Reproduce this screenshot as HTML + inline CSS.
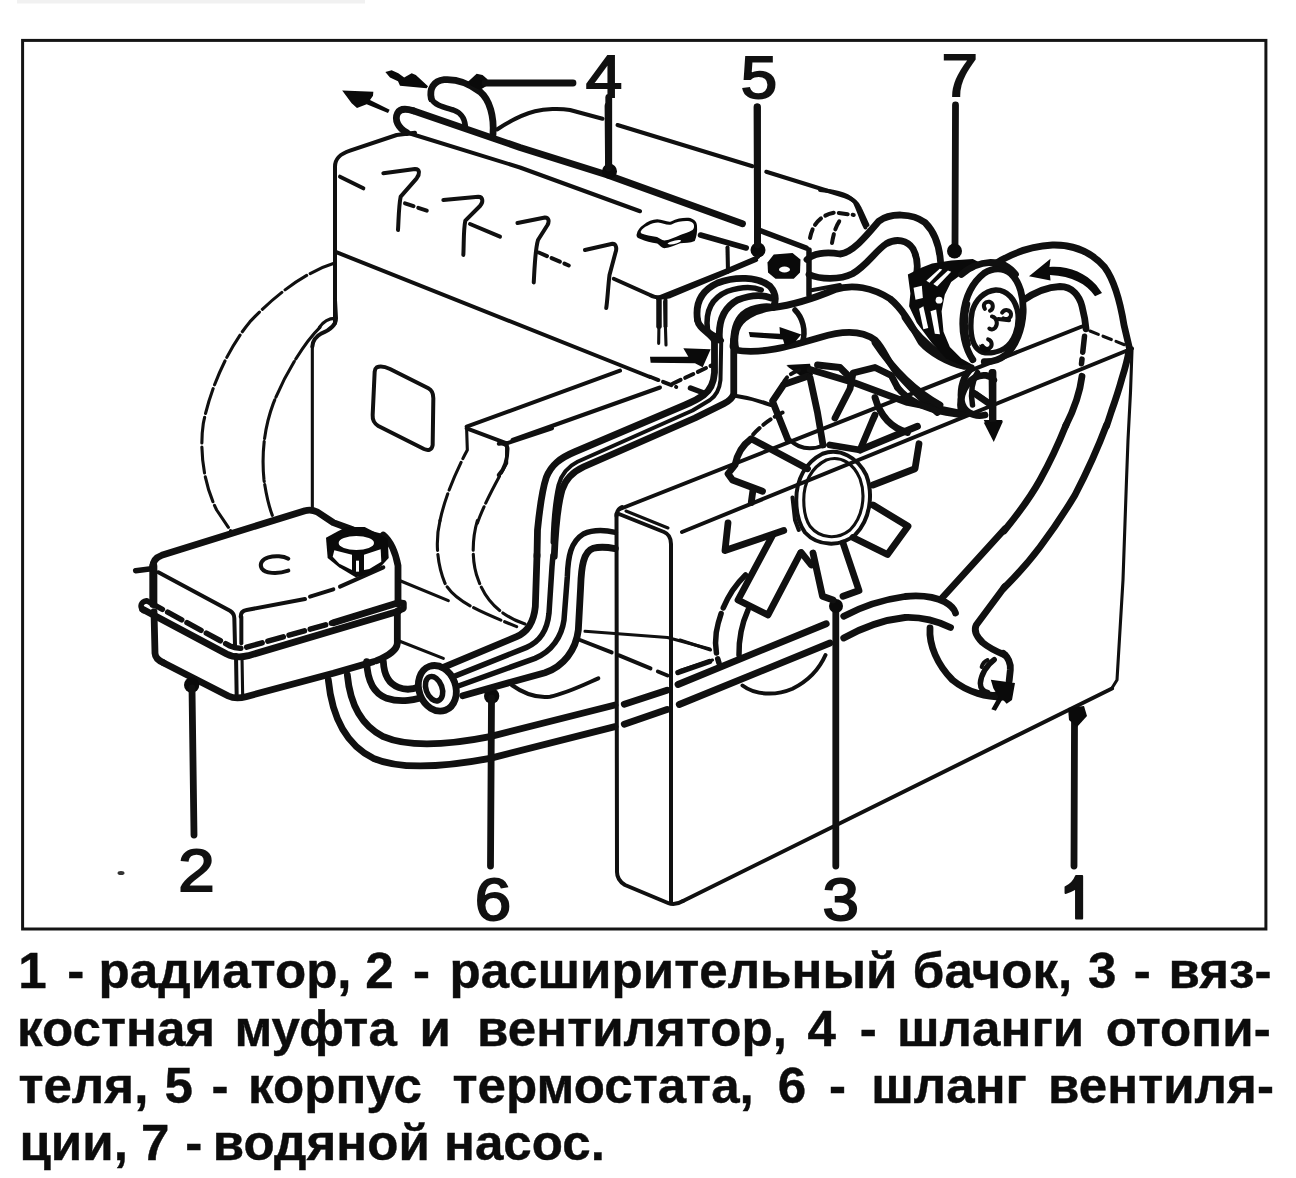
<!DOCTYPE html>
<html lang="ru">
<head>
<meta charset="utf-8">
<title>Система охлаждения</title>
<style>
html,body{margin:0;padding:0;background:#fff;}
body{width:1296px;height:1178px;overflow:hidden;position:relative;font-family:"Liberation Sans",sans-serif;}
svg{position:absolute;left:0;top:0;filter:blur(0.45px);}
.t,.m,.k,.h{fill:none;stroke:#101010;stroke-linecap:round;stroke-linejoin:round;vector-effect:non-scaling-stroke;}
.t{stroke-width:3.1;}
.m{stroke-width:4.0;}
.k{stroke-width:5.5;}
.h{stroke-width:6.8;}
.d{stroke-dasharray:9 5;}
.f{fill:#0a0a0a;stroke:none;}
.w{fill:#fff;}
.num{font-family:"Liberation Sans",sans-serif;font-size:58px;fill:#111;}
</style>
</head>
<body>
<svg width="1296" height="1178" viewBox="0 0 1296 1178">
<!-- 00_frame.svg -->
<g id="frame">
<rect x="22.6" y="40.4" width="1243.3" height="888.6" fill="none" stroke="#141414" stroke-width="3"/>
<rect x="17" y="0" width="348" height="3.5" fill="#f1f1f1"/>
</g>

<!-- 10_hose4.svg -->
<g id="r1" transform="translate(320,50) scale(0.166667)">
<!-- flow arrows -->
<path class="f" d="M392,132 L430,122 L470,140 L505,165 L550,140 L575,150 L648,218 L640,230 L480,215 L468,188 L420,165 Z"/>
<path class="f" d="M133,243 L320,250 L318,275 L300,300 L418,358 L408,378 L280,325 L222,348 L190,320 Z"/>
<!-- upper short hose -->
<path class="h" d="M668,292 C655,235 680,185 745,178 C830,172 900,205 960,250 C1020,300 1045,400 1038,505"/>
<path class="k" d="M668,292 C690,335 750,345 800,360 C850,378 868,410 872,455"/>
<!-- leader arrowhead for 4 -->
<path class="f" d="M878,200 L940,142 L975,150 L1005,175 L1005,212 L960,240 Z"/>
<!-- long pipe rounded end -->
<path class="h" d="M520,495 C470,470 445,420 465,380 C480,350 520,352 560,365"/>
</g>

<!-- 11_pipe.svg -->
<g id="r2" transform="translate(520,100) scale(0.25)">
<!-- long pipe: upper thick line from rounded end (source ~ (413,110)) to (744,224) -->
<path class="h" d="M-427,43 L0,190 L350,300 L890,495"/>
<!-- lower line of pipe -->
<path class="m" d="M-453,130 L0,270 L480,445"/>
<path class="k" d="M722,540 L905,592"/>
<!-- leader 4 vertical + dot -->
<path class="h" d="M355,-10 L355,280"/>
<circle class="f" cx="358" cy="285" r="30"/>
<!-- leader 5 vertical + dot -->
<path class="h" d="M950,28 L950,590"/>
<circle class="f" cx="952" cy="600" r="30"/>
<!-- oil filler cap -->
<path class="f" d="M466,540 C470,520 480,508 493,500 C510,485 530,478 549,477 C570,478 590,490 604,486 C630,472 660,470 681,472 C700,478 708,490 708,504 C710,525 706,548 699,564 C680,572 660,572 641,573 C620,580 600,592 577,593 C565,590 558,580 549,574 C525,570 500,565 482,556 C470,552 466,548 466,540 Z"/>
<path class="w" d="M482,528 C488,515 498,508 510,503 C525,494 540,490 552,490 C570,492 588,502 606,498 C630,486 655,483 678,485 C690,488 696,494 696,503 C697,510 694,516 690,520 C672,530 655,535 641,540 C620,548 600,560 578,562 C566,560 558,552 548,548 C525,545 500,540 486,534 Z"/>
<path class="w" d="M590,574 C600,566 625,560 640,560 C650,562 640,570 625,574 C610,578 596,580 590,574 Z"/>
<!-- intake manifold top -->
<path class="m" d="M-92,118 C-50,90 0,60 60,45 C100,35 160,33 200,40 L330,75"/>
<path class="m" d="M390,100 L930,265"/>
<path class="m" d="M985,287 L1300,385 C1330,395 1350,410 1360,435 L1390,500"/>
<!-- valve cover back corner -->
<path class="m" d="M375,715 L520,780 C540,792 570,792 600,785 L945,640"/>
<path class="k" d="M556,800 L556,905"/>
<path class="m" d="M582,800 L582,905"/>
<path class="t" d="M830,590 L830,690"/>
<!-- spark marks 3,4 -->
<path class="m" d="M-10,492 L100,470 C115,470 118,485 110,500 L72,560 C60,600 58,680 55,730"/>
<path class="m d" d="M75,610 L195,662"/>
<path class="m" d="M260,600 L370,575 C385,575 388,595 382,610 L358,700 C352,750 350,800 345,832"/>
</g>

<!-- 12_valvecover.svg -->
<g id="r3" transform="translate(300,130) scale(0.333333)">
<!-- valve cover outline: left edge + top-left corner -->
<path class="m" d="M105,580 L105,110 C105,85 120,72 150,62 L290,15 L345,8"/>
<!-- front face bottom edge -->
<path class="m" d="M105,365 L1050,741"/>
<path class="m" d="M120,140 L190,175"/>
<!-- spark marks 1,2 -->
<path class="m" d="M250,130 L345,117 C360,117 360,132 350,145 L302,200 C296,230 296,270 294,300"/>
<path class="m d" d="M315,220 L392,246"/>
<path class="m" d="M430,210 L535,200 C550,200 550,218 540,228 L496,272 C490,300 492,340 490,375"/>
<path class="m" d="M510,282 L600,320"/>
<!-- line to right: top of lower block -->
<path class="m" d="M500,890 L960,722"/>
<!-- vertical double line under cover corner -->
<path class="t" d="M1078,515 L1076,640"/>
<path class="t" d="M1094,515 L1098,645"/>
<!-- flow arrow right -->
<path class="f" d="M1050,680 L1165,680 L1150,655 L1232,658 L1208,712 L1185,700 L1052,698 Z"/>
</g>

<!-- 13_bell.svg -->
<g id="r4" transform="translate(120,250) scale(0.333333)">
<!-- outer dashed arc of bell housing -->
<path class="t" style="stroke-dasharray:26 4" d="M642,40 C560,65 470,130 390,215 C320,300 270,420 250,520 C238,600 250,700 290,780 L332,842"/>
<!-- inner arc -->
<path class="t" style="stroke-dasharray:40 3" d="M600,232 C560,270 500,360 460,460 C430,540 425,620 432,690 C438,730 445,765 457,796"/>
<!-- hook -->
<path class="m" d="M645,150 L648,205 C648,225 630,240 605,250 C590,258 578,270 577,290"/>
<path class="t" d="M645,205 C625,205 610,215 598,232"/>
<!-- vertical thin line -->
<path class="t" d="M577,290 L577,772"/>
<!-- plate on block side -->
<path class="m" d="M770,352 C780,348 795,350 810,357 L925,415 C938,422 940,432 940,445 L938,585 C936,600 925,603 912,597 L775,528 C762,520 757,510 758,495 L764,365 C765,357 767,354 770,352 Z"/>
<!-- exhaust manifold / shield box -->
<path class="m" d="M1040,535 L1160,580 L1296,535"/>
<path class="t" style="stroke-dasharray:30 4" d="M1040,540 L1042,600 C1010,660 975,740 960,812"/>
<path class="t" style="stroke-dasharray:30 4" d="M1160,582 L1160,640 C1120,710 1085,780 1072,820"/>
</g>

<!-- 20_tank.svg -->
<g id="r5" transform="translate(120,480) scale(0.333333)">
<!-- white fill of tank body to hide things behind -->
<path class="w" d="M95,250 L120,227 L560,90 L640,130 L800,180 L832,240 L832,500 L760,545 L640,580 L370,652 L330,652 L130,548 L100,530 Z"/>
<!-- top back edge (thick) -->
<path class="h" d="M98,262 C98,245 108,232 125,226 L555,92 C570,88 580,90 592,96 L640,128 L700,150 L790,173"/>
<!-- left side very thick -->
<path class="h" style="stroke-width:8" d="M100,258 L100,372"/>
<path class="k" d="M47,272 L88,267"/>
<!-- top front-left edge -->
<path class="m" d="M115,277 L330,392 C340,398 343,405 343,415 L345,495"/>
<!-- top front-right edge (broken) -->
<path class="m" d="M362,410 C362,398 368,392 380,390 L555,357"/>
<path class="m" d="M570,350 L640,328"/>
<path class="m" d="M660,320 L790,262"/>
<path class="m" d="M364,410 L364,490"/>
<!-- C mark -->
<path class="m" d="M505,236 C490,228 465,226 445,232 C425,238 418,252 425,265 C435,280 470,284 505,272"/>
<!-- right side edge -->
<path class="h" d="M790,165 C810,182 826,215 834,257 L834,372"/>
<!-- flange upper/lower -->
<path class="k" d="M80,362 C62,365 58,380 70,392"/>
<path class="k" style="stroke-dasharray:16 6" d="M85,365 L330,498 C345,505 360,506 375,503 L640,428"/>
<path class="h" d="M640,428 L835,368 L850,370 L850,385 L835,392"/>
<path class="h" d="M68,388 L320,522 C340,532 365,532 385,527 L835,394"/>
<!-- lower body -->
<path class="h" d="M102,395 L105,520 C106,535 115,542 130,548"/>
<path class="h" d="M130,548 L325,648 C340,655 360,655 378,650 L640,580 L760,545"/>
<path class="h" d="M832,395 L832,490 C830,510 810,525 770,542"/>
<path class="m" d="M348,525 L350,645"/>
<path class="t" d="M366,530 L368,645"/>
<!-- cap: hex nut -->
<path class="f" d="M618,173 L623,234 L657,262 L707,292 L746,283 L784,258 L806,234 L803,176 L762,155 L734,141 L679,141 L651,155 Z"/>
<ellipse class="w" cx="709" cy="189" rx="53" ry="21"/>
<path class="w" d="M643,211 L696,224 L696,270 L658,251 L638,230 Z"/>
<path class="w" d="M732,224 L782,208 L784,245 L748,267 L732,270 Z"/>
<path class="w" d="M708,242 L717,242 L717,275 L708,275 Z"/>
<!-- leader 2 -->
<circle class="f" cx="215" cy="615" r="23"/>
<!-- leader 6 -->
<circle class="f" cx="1115" cy="648" r="23"/>
</g>

<!-- 21_hoses_low.svg -->
<g id="r6" transform="translate(330,480) scale(0.333333)">
<!-- background dashed arcs (flywheel housing, lower part) -->
<path class="t" style="stroke-dasharray:30 4" d="M330,122 C316,180 320,250 345,310 C375,365 450,395 560,440"/>
<path class="t" style="stroke-dasharray:30 4" d="M442,122 C425,180 425,250 445,300 C470,370 520,410 585,432"/>
<path class="t" d="M205,300 L355,362"/>
<path class="t" d="M200,480 L340,535"/>
<!-- oil pan curve -->
<path class="m" d="M545,615 C580,640 620,655 660,650 C710,640 760,615 805,595"/>
<!-- two long hoses along bottom (outer/inner) -->
<path class="h" d="M-5,600 C5,700 40,790 130,835 C200,865 320,865 480,835 L855,740"/>
<path class="h" d="M52,585 C60,670 90,735 160,770 C230,800 330,800 480,770 L855,675"/>
<!-- small hose tank->clamp -->
<path class="h" d="M110,545 C112,600 130,640 170,655 C210,668 260,662 292,645"/>
<path class="h" d="M160,545 C162,585 178,612 205,622 C225,630 250,628 268,620"/>
<!-- clamp ring -->
<ellipse class="h" cx="322" cy="625" rx="55" ry="70" transform="rotate(-20 322 625)" fill="#fff" style="fill:#fff"/>
<ellipse class="k" cx="312" cy="625" rx="24" ry="38" transform="rotate(-20 315 625)"/>
<!-- hose bundle -->
<path class="h" d="M340,562 L560,470 C595,455 612,420 616,380 L621,225"/>
<path class="k" d="M365,592 L590,502 C630,485 652,450 657,400 L666,260 L669,225"/>
<path class="k" d="M385,618 L615,535 C665,515 695,470 702,420 L712,290 C714,230 722,185 760,162 C790,148 825,150 856,157"/>
<path class="h" d="M398,647 L645,578 C700,560 738,510 745,450 L752,320 C754,260 760,215 790,205 C815,198 835,202 856,206"/>
<!-- leader 6 (redundant with r5) -->
</g>

<!-- 30_radiator.svg -->
<g id="radiator">
<!-- left side panel -->
<path class="m" d="M616.5,516 C616.5,512 618,509 622,507"/>
<path class="m" d="M616.5,514 L617,872 C617,878 620,882 625,885 L668,903 C673,905 678,904 683,901"/>
<path class="m" d="M619,514 L664,532 C669,534 671,538 671,544 L671,902"/>
<path class="t" d="M626,511 L668,528"/>
<!-- top back edge -->
<path class="m" d="M620,509 L1082,326.5"/>
<!-- top front edge -->
<path class="m" d="M682,532 L1132,348.5"/>
<!-- top right (dashed) -->
<path class="t d" d="M1090,331 L1130,347"/>
<!-- right edge -->
<path class="t" d="M1132,350 L1130.5,392 L1128,440 L1126.5,480 L1123,580 L1117,680 L1112,688"/>
<!-- bottom edge -->
<path class="m" d="M683,901 L1112,688.5"/>
<!-- leader 1 -->
<path class="h" d="M1074.5,722 L1074,866"/>
<path class="f" d="M1068,708 L1084,706 L1087,716 L1077,727 L1069,720 Z"/>
<!-- leader 3 -->
<path class="h" d="M835.8,612 L835.8,866"/>
<circle class="f" cx="836" cy="606" r="7"/>
</g>

<!-- 40_thermo.svg -->
<g id="r7" transform="translate(660,190) scale(0.25)">
<!-- valve cover right lower edge up to dot -->
<path class="m" d="M-10,432 L270,320 L392,268"/>
<!-- thermostat housing top/back -->
<path class="k" d="M400,162 L585,232"/>
<path class="k" d="M596,240 L596,420"/>
<path class="m" d="M600,402 L720,380"/>
<path class="m" d="M270,230 L272,320"/>
<!-- bolt -->
<path class="f" d="M430,290 L455,258 L530,252 L562,278 L560,330 L535,355 L462,355 L432,330 Z"/>
<ellipse class="w" cx="498" cy="318" rx="22" ry="12"/>
<!-- bracket hidden lines above -->
<path class="m" d="M640,0 C700,5 760,20 780,50 C795,80 805,120 822,150"/>
<path class="m d" d="M600,192 C610,140 640,100 700,90 L775,100"/>
<path class="m d" d="M688,212 C695,170 705,140 722,118"/>
<!-- upper hose thermostat->pump : top line & bottom line -->
<path class="h" d="M588,278 C610,255 660,245 720,256 C770,250 820,190 875,125 C920,90 1010,92 1060,130 C1100,170 1118,230 1122,285"/>
<path class="h" d="M596,338 C640,358 720,360 770,335 C830,300 860,245 905,215 C945,192 990,200 1012,235 C1030,270 1032,305 1026,335"/>
<!-- big lower hose top line -->
<path class="h" d="M452,470 C520,462 600,440 700,398 C770,375 850,390 920,435 C975,480 1010,550 1045,610 C1080,650 1150,690 1215,705"/>
<!-- big lower hose bottom line -->
<path class="h" d="M300,640 C400,660 520,625 640,590 C720,565 800,555 860,600 C900,640 915,700 960,745 C1010,800 1060,850 1110,890"/>
<!-- hose mouth ellipse (left end) -->
<path class="h" d="M452,470 C380,480 320,510 305,560 C295,600 300,625 305,640"/>
<path class="k" d="M540,480 C570,510 585,560 570,610"/>
<!-- arrow inside hose mouth -->
<path class="f" d="M355,568 L480,575 L478,548 L565,578 L540,608 L500,625 L492,598 L360,588 Z"/>
<!-- heater hoses: 4 lines looping over -->
<path class="h" d="M150,520 C140,450 170,400 230,372 C300,345 390,345 440,385 C462,410 465,440 455,465"/>
<path class="k" d="M190,560 C180,480 210,430 270,405 C320,388 370,385 405,400"/>
<path class="h" d="M238,600 C232,520 255,470 310,440 C360,420 410,418 445,432"/>
<path class="k" d="M292,620 C290,560 305,510 345,485 C380,468 410,462 440,465"/>
<!-- hoses going down -->
<path class="h" d="M150,520 C155,555 200,570 218,602"/>
<path class="k" d="M190,560 C200,580 235,585 245,602"/>
<path class="h" d="M292,625 L295,600"/>
<!-- fan arrow head -->
<path class="f" d="M508,705 L600,698 L612,740 L560,742 Z"/>
</g>

<!-- 41_midhoses.svg -->
<g id="r8" transform="translate(500,330) scale(0.25)">
<!-- block/manifold lines -->
<path class="m d" d="M600,187 L705,228"/>
<path class="m" d="M50,440 L640,230"/>
<path class="m" d="M-5,455 C15,452 30,458 30,475 C30,510 20,555 -5,580"/>
<path class="m d" d="M690,215 L850,140"/>
<path class="k" d="M762,232 L810,250"/>
<!-- heater hose lines A (thick), B (thin), C (thick) -->
<path class="h" d="M858,40 L858,170 C855,210 845,238 815,260 C790,278 760,292 740,300 L300,487 C240,512 205,540 185,590 C165,650 155,750 150,800 L148,905"/>
<path class="m" d="M885,40 L882,200 C878,240 865,262 840,280 L770,322 L310,527 C268,548 246,575 234,620 C218,690 212,760 210,850"/>
<path class="h" d="M935,40 L935,255 C930,275 915,285 895,295 L780,352 L335,547 C290,568 262,595 248,640 C228,710 222,790 217,905"/>
<!-- pump bracket thin line -->
<path class="m" d="M935,262 C980,268 1030,280 1082,300"/>
</g>

<!-- 42_pump.svg -->
<g id="r9" transform="translate(860,200) scale(0.25)">
<!-- upper radiator hose: outer -->
<path class="h" d="M530,262 C600,215 680,185 770,180 C860,178 925,208 978,268 C1022,328 1043,420 1056,500 L1078,594"/>
<!-- inner -->
<path class="h" d="M652,402 C700,368 750,348 800,346 C850,346 878,385 888,425 C897,460 902,490 904,515"/>
<path class="k" style="stroke-dasharray:16 7" d="M898,545 L886,655"/>
<!-- hose continuing down behind radiator face -->
<path class="h" d="M1076,602 C1068,650 1055,690 1047,716 C1035,760 1020,805 1006,844 L986,905"/>
<path class="h" d="M888,705 C880,770 855,840 822,905"/>
<!-- curved flow arrow -->
<path class="f" d="M676,305 L762,235 L758,268 C830,262 900,290 945,340 L968,372 L940,385 C905,335 850,305 760,300 L762,322 Z"/>
<!-- pump bottom / big lower hose top joins -->
<path class="h" d="M180,470 C210,520 260,575 330,625 C370,650 410,665 445,670"/>
<!-- small hose end under pump: ring + arrow -->
<path class="h" d="M445,675 C415,700 400,750 405,800 C412,845 450,870 500,860"/>
<path class="k" d="M470,690 C450,720 440,770 450,820"/>
<path class="k" d="M455,770 L520,815"/>
<path class="h" d="M528,690 L530,890"/>
<path class="f" d="M495,880 L570,880 L535,960 Z"/>
</g>

<!-- 43_fan.svg -->
<g id="r10" transform="translate(700,340) scale(0.25)">
<!-- long flow arrow: head upper-left + shaft to small hose end -->
<path class="f" d="M345,100 L440,95 L448,150 L400,135 Z"/>
<path class="h" d="M440,118 L620,172 L830,250 L1040,292"/>
<!-- blades upper -->
<path class="h" d="M352,400 L290,245 L335,178 L430,145"/>
<path class="h" d="M440,150 L470,290 L492,420"/>
<path class="h" d="M540,312 L600,195 L612,132 L700,110 L765,142 L790,190"/>
<path class="h" d="M640,440 L690,322 L700,300"/>
<path class="h" d="M700,230 C720,300 760,350 830,370"/>
<path class="h" d="M520,420 L640,440 L870,345"/>
<path class="h" d="M470,100 L560,110 L600,150"/>
<path class="m" d="M360,400 C400,440 450,440 500,420"/>
<!-- blade right L-shape -->
<path class="h" d="M692,580 L860,515 L876,415"/>
<!-- blade lower-right rectangle -->
<path class="h" d="M692,660 L832,745 L750,858 L612,790"/>
<!-- blade left quadrilateral -->
<path class="h" d="M430,515 L205,395 C170,420 150,450 140,500 L112,535 L130,560 L250,605"/>
<path class="h" d="M212,600 L205,650"/>
<!-- blade lower-left L -->
<path class="h" d="M112,732 L100,842 L335,762"/>
<!-- hub rings -->
<path class="m" d="M385,640 C385,560 420,490 490,455 C560,430 630,470 665,540 C695,620 680,720 620,780 C560,830 470,825 420,770 C395,735 385,690 385,640 Z"/>
<path class="t" d="M415,640 C415,570 445,510 505,480 C565,460 615,495 640,555 C665,625 650,710 600,760 C550,800 480,795 440,745 C420,715 415,680 415,640 Z"/>
<path class="m" d="M370,630 L380,720 L395,760"/>
<!-- shroud ring top-left (dashed) -->
<path class="m d" d="M150,470 C190,390 250,330 330,290"/>
<path class="m d" d="M330,180 C340,150 365,130 400,120"/>
<!-- hose bits upper-right (pump neck) -->
<path class="h" d="M1050,300 C1030,250 1050,180 1100,150 C1130,135 1160,140 1175,160"/>
<path class="h" d="M1100,215 L1165,260"/>
<path class="h" d="M1172,130 L1172,340"/>
<path class="f" d="M1135,330 L1212,325 L1175,408 Z"/>
<path class="h" d="M790,190 C830,240 900,275 985,290 L1050,300"/>
<path class="h" d="M700,10 C760,100 850,200 960,260"/>
</g>
<g id="r11" transform="translate(680,480) scale(0.25)">
<!-- blade lower-left rectangle -->
<path class="h" d="M370,222 L232,480 L352,540 L482,292"/>
<!-- blade bottom -->
<path class="h" d="M532,292 L570,465 L612,480"/>
<path class="h" d="M652,252 L716,442 L652,465"/>
<path class="h" d="M485,290 L525,340"/>
<!-- shroud arcs lower-left -->
<path class="k" style="stroke-dasharray:40 6" d="M262,380 C200,440 160,520 145,610 C138,660 145,700 156,732"/>
<path class="k" d="M272,520 C245,580 235,640 236,700"/>
<path class="m" d="M250,822 C300,860 380,865 450,835 C520,800 560,750 582,700"/>
<path class="t" d="M0,640 L122,680"/>
<path class="t" d="M0,762 L130,720"/>
<!-- lower radiator hose -->
<path class="h" d="M655,545 C720,510 800,480 900,466 C960,460 1020,468 1060,488 C1085,502 1098,518 1102,532"/>
<path class="h" d="M655,632 C730,590 810,560 900,550 C960,548 1030,565 1082,590"/>
<path class="h" d="M1050,470 L1300,195"/>
<path class="h" d="M1300,425 L1185,580 C1175,600 1185,625 1210,650 C1240,675 1275,690 1300,700"/>
<path class="h" d="M1000,592 C995,660 1030,740 1090,800 C1150,850 1230,870 1300,868"/>
<!-- long hoses continuing to leader -->
<path class="h" d="M-8,818 L585,575"/>
<path class="h" d="M-3,898 L600,652"/>
</g>

<!-- 44_bighose.svg -->
<g id="bighose">
<path class="h" d="M1066,425 C1058,445 1050,462 1040,480 C1030,498 1018,514 1004,531"/>
<path class="h" d="M1106.5,425 C1099,445 1088,470 1075,495 C1063,515 1052,531 1040,547 C1028,563 1017,575 1004,588"/>
</g>

<!-- 45_hoseend.svg -->
<g id="r12" transform="translate(900,560) scale(0.166667)">
<path class="h" d="M620,560 C650,585 665,620 662,660 L655,725"/>
<path class="k" d="M565,598 C520,630 485,690 482,740 C482,770 500,790 525,795"/>
<path class="m" d="M490,642 C495,622 508,608 525,600"/>
<path class="h" d="M480,800 C520,812 560,815 600,808"/>
<path class="f" d="M545,718 L690,738 L672,840 L640,862 L615,835 L575,905 L548,895 L590,820 L560,770 Z"/>
</g>

<!-- 46_under.svg -->
<g id="r13" transform="translate(480,560) scale(0.25)">
<path class="t" d="M420,285 L750,310 L920,356"/>
<path class="m" style="stroke-dasharray:34 8" d="M400,320 L540,375 L750,462"/>
<path class="k" d="M792,450 L918,406"/>
<path class="h" d="M577,577 L748,521"/>
<path class="h" d="M577,657 L748,598"/>
</g>

<!-- 47_pumpbody.svg -->
<g id="r14" transform="translate(890,240) scale(0.12739)">
<!-- white backing for pump so hoses behind don't show -->
<path class="w" d="M160,300 L330,190 L650,150 L900,200 L1040,420 L1040,680 L960,880 L800,960 L600,970 L400,860 L200,640 Z"/>
<!-- dark back body -->
<path class="f" d="M140,270 L250,215 L330,185 L480,160 L650,150 L700,175 L660,235 L560,270 L480,330 L430,430 L405,560 L420,720 L470,840 L560,930 L640,975 L560,985 L440,930 L330,810 L210,650 L150,520 L160,420 Z"/>
<!-- white highlights in back body -->
<path class="w" d="M285,320 L390,225 L410,232 L310,335 Z"/>
<path class="w" d="M340,345 L455,240 L480,250 L370,365 Z"/>
<circle class="w" cx="385" cy="472" r="27"/>
<path class="w" d="M185,375 L250,360 L258,455 L200,470 Z"/>
<path class="w" d="M228,540 L262,520 L300,690 L262,700 Z"/>
<path class="w" d="M318,560 L362,545 L392,740 L352,735 Z"/>
<!-- white band between body and face -->
<path class="w" d="M560,275 L700,225 L640,330 L585,470 L565,640 L590,800 L650,935 L570,920 L480,830 L435,720 L420,560 L445,430 L495,335 Z"/>
<!-- face outer ring -->
<path class="h" d="M650,940 C590,850 560,720 575,590 C590,450 650,330 740,260 C810,215 890,215 950,265 C1020,330 1050,450 1045,570 C1038,700 990,830 910,900 C860,940 800,960 740,955"/>
<path class="h" d="M560,270 C620,215 700,180 790,175 C870,175 940,210 985,270"/>
<!-- inner ring -->
<path class="k" d="M645,560 C670,470 740,400 830,392 C920,390 990,470 1005,580 C1015,690 975,800 900,850 C850,880 780,895 725,880 C670,860 640,790 635,700 C633,650 637,600 645,560 Z"/>
<path class="m" d="M615,500 C590,600 590,720 620,820"/>
<!-- squiggles -->
<path class="m" d="M745,540 C725,510 745,480 780,485 C815,495 815,540 785,555"/>
<path class="m" d="M880,570 C900,540 945,545 950,580 C952,615 915,630 890,615"/>
<path class="m" d="M800,600 C840,610 850,660 825,690 C810,705 790,705 780,695"/>
<path class="m" d="M850,620 L935,630"/>
<path class="m" d="M770,780 C800,790 810,830 780,850 C760,860 735,850 725,830"/>
<path class="f" d="M700,820 L760,840 L790,870 L740,885 L705,860 Z"/>
</g>

<!-- 80_nums.svg -->
<g id="nums" font-family="Liberation Sans" font-size="59.5" fill="#111" stroke="#111" stroke-width="1.9">
<text transform="translate(603.8,97.0) scale(1.1,1)" x="-16.51" y="0">4</text>
<text transform="translate(758.8,97.5) scale(1.1,1)" x="-16.51" y="0">5</text>
<text transform="translate(959.7,96.3) scale(1.1,1)" x="-16.51" y="0">7</text>
<text transform="translate(196.3,891.0) scale(1.1,1)" x="-16.51" y="0">2</text>
<text transform="translate(493.0,919.5) scale(1.1,1)" x="-16.51" y="0">6</text>
<text transform="translate(840.6,919.5) scale(1.1,1)" x="-16.51" y="0">3</text>
<path d="M1076,876 L1082.2,876 L1082.2,918.5 L1076,918.5 L1076,888.5 C1072.5,890.5 1069,892 1065.5,893 L1065.5,887 C1070,885 1074,881 1076,876 Z" stroke-linejoin="round"/>
</g>
<g id="leaders">
<path class="h" d="M573,83 L485,83"/>
<path class="h" d="M608,106 L608.5,168"/>
<path class="h" d="M757,107 L757.5,245"/>
<path class="h" d="M955.5,105 L955,246"/>
<circle class="f" cx="954.5" cy="251" r="7.5"/>
<path class="h" d="M194,835 L192,688"/>
<path class="h" d="M490.5,866 L491.5,698"/>
</g>
<ellipse cx="121" cy="873" rx="3.5" ry="2" fill="#333"/>

<!-- 90_caption.svg -->
<g id="caption" font-family="Liberation Sans" font-weight="bold" font-size="49.4" fill="#0c0c0c" stroke="#0c0c0c" stroke-width="0.4">
<text transform="translate(18.3,987.5) scale(1.035,1.02)">1</text>
<text transform="translate(67.3,987.5) scale(1.035,1.02)">-</text>
<text transform="translate(98.6,987.5) scale(1.035,1.02)">радиатор,</text>
<text transform="translate(365.3,987.5) scale(1.035,1.02)">2</text>
<text transform="translate(412.9,987.5) scale(1.035,1.02)">-</text>
<text transform="translate(449.4,987.5) scale(1.035,1.02)">расширительный</text>
<text transform="translate(912.8,987.5) scale(1.035,1.02)">бачок,</text>
<text transform="translate(1087.9,987.5) scale(1.035,1.02)">3</text>
<text transform="translate(1133.7,987.5) scale(1.035,1.02)">-</text>
<text transform="translate(1168.4,987.5) scale(1.035,1.02)">вяз-</text>
<text transform="translate(17.1,1045.9) scale(1.035,1.02)">костная</text>
<text transform="translate(234.4,1045.9) scale(1.035,1.02)">муфта</text>
<text transform="translate(419.4,1045.9) scale(1.035,1.02)">и</text>
<text transform="translate(477.1,1045.9) scale(1.035,1.02)">вентилятор,</text>
<text transform="translate(807.4,1045.9) scale(1.035,1.02)">4</text>
<text transform="translate(859.7,1045.9) scale(1.035,1.02)">-</text>
<text transform="translate(897.0,1045.9) scale(1.035,1.02)">шланги</text>
<text transform="translate(1105.8,1045.9) scale(1.035,1.02)">отопи-</text>
<text transform="translate(18.4,1102.8) scale(1.035,1.02)">теля,</text>
<text transform="translate(164.4,1102.8) scale(1.035,1.02)">5</text>
<text transform="translate(211.4,1102.8) scale(1.035,1.02)">-</text>
<text transform="translate(248.1,1102.8) scale(1.035,1.02)">корпус</text>
<text transform="translate(452.5,1102.8) scale(1.035,1.02)">термостата,</text>
<text transform="translate(777.8,1102.8) scale(1.035,1.02)">6</text>
<text transform="translate(829.0,1102.8) scale(1.035,1.02)">-</text>
<text transform="translate(871.2,1102.8) scale(1.035,1.02)">шланг</text>
<text transform="translate(1048.1,1102.8) scale(1.035,1.02)">вентиля-</text>
<text transform="translate(19.4,1159.6) scale(1.035,1.02)">ции,</text>
<text transform="translate(141.0,1159.6) scale(1.035,1.02)">7</text>
<text transform="translate(185.3,1159.6) scale(1.035,1.02)">-</text>
<text transform="translate(212.7,1159.6) scale(1.035,1.02)">водяной</text>
<text transform="translate(444.0,1159.6) scale(1.035,1.02)">насос.</text>
</g>


</svg>
</body>
</html>
